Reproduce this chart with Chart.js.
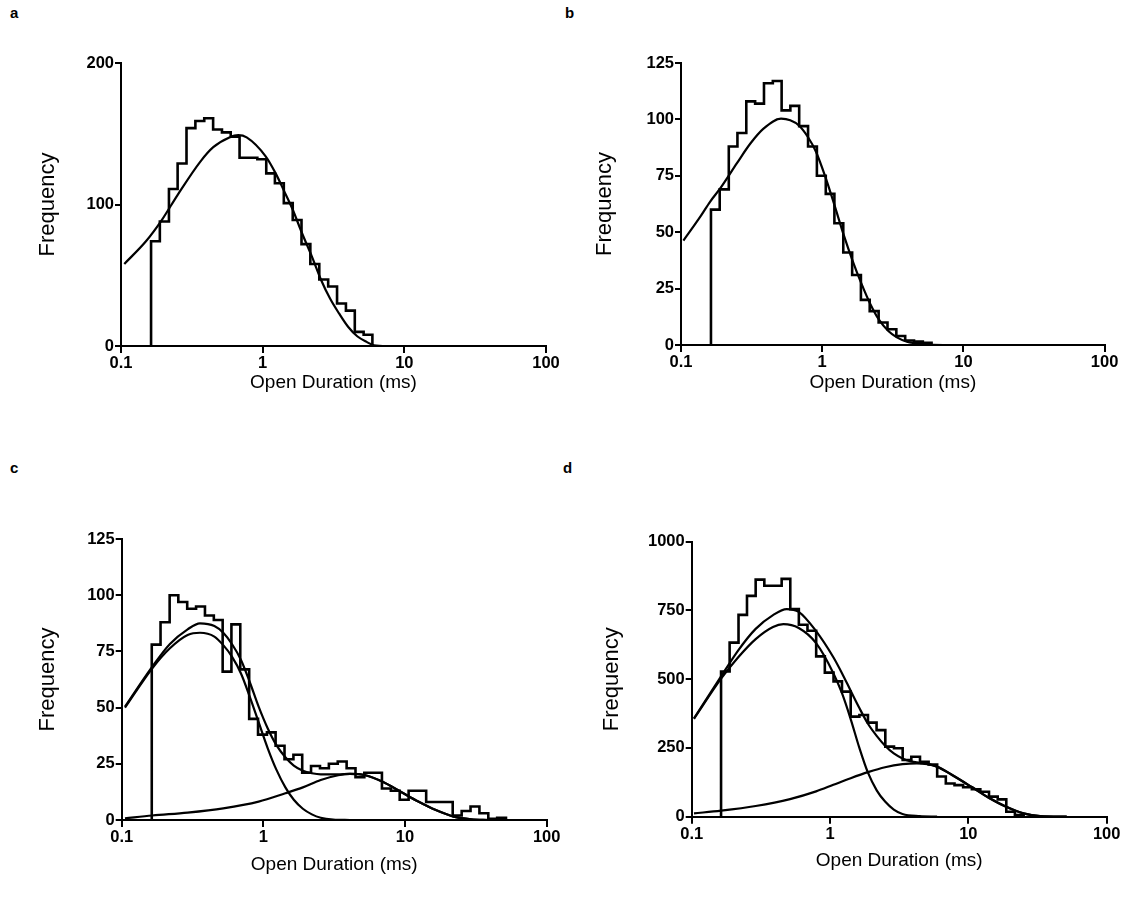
<!DOCTYPE html>
<html>
<head>
<meta charset="utf-8">
<script src="https://cdn.jsdelivr.net/npm/chart.js@4.4.1/dist/chart.umd.min.js"></script>
<style>
  body { margin: 0; background: #fff; width: 1131px; height: 897px; position: relative; overflow: hidden;
         font-family: "Liberation Sans", Arial, sans-serif; }
  canvas { position: absolute; }
  .tag { position: absolute; font-weight: bold; font-size: 15px; line-height: 15px; color: #000; }
</style>
</head>
<body>
<div class="tag" style="left:10px;top:5px">a</div>
<div class="tag" style="left:565px;top:5px">b</div>
<div class="tag" style="left:10px;top:460px">c</div>
<div class="tag" style="left:563px;top:460px">d</div>
<canvas id="pa" width="565" height="450" style="left:0;top:0"></canvas>
<canvas id="pb" width="566" height="450" style="left:565px;top:0"></canvas>
<canvas id="pc" width="565" height="447" style="left:0;top:450px"></canvas>
<canvas id="pd" width="566" height="447" style="left:565px;top:450px"></canvas>
<script>
// x axis (log) ticks
const xTicks = [0.1, 1, 10, 100];
const xTickLabels = ["0.1", "1", "10", "100"];

// histogram bin edges (ms), same for all panels
const binEdges = [0.163, 0.188, 0.218, 0.251, 0.290, 0.335, 0.387, 0.447, 0.516, 0.595,
  0.687, 0.794, 0.917, 1.06, 1.22, 1.41, 1.63, 1.88, 2.17, 2.51,
  2.90, 3.35, 3.87, 4.47, 5.16, 5.95, 6.87, 7.94, 9.17, 10.6,
  12.2, 14.1, 16.3, 18.8, 21.7, 25.1, 29.0, 33.5, 38.7, 44.7, 51.6];

// bin counts
const countsA = [74, 88, 111, 129, 154, 159, 161, 153, 151, 148, 133, 133, 132, 122, 115, 101, 89, 72, 58, 47, 42, 30, 25, 10, 8];
const countsB = [60, 69, 88, 94, 108, 107, 116, 117, 104, 106, 97, 88, 75, 67, 54, 41, 31, 20, 15, 10, 7, 4, 2, 1.5, 1];
const countsC = [78, 88, 100, 97, 94, 95, 91, 89, 66, 87, 67, 45, 38, 39, 33, 27, 29, 21, 24, 23,
  25, 26, 23, 19, 21, 21, 14, 13, 9, 13, 13, 8, 8, 8, 2, 4, 6, 3, 0.5, 1];
const countsD = [528, 633, 734, 803, 862, 840, 840, 865, 755, 698, 676, 583, 524, 492, 455, 364, 370, 342, 315, 255,
  249, 206, 218, 200, 190, 146, 121, 115, 107, 100, 91, 73, 63, 18, 6];

// fitted curves
const fitAx = [0.1055, 0.150, 0.194, 0.25, 0.361, 0.448, 0.582, 0.673, 0.771, 1.05, 1.235, 1.41, 1.62, 1.90, 2.23, 2.59, 2.99, 3.46, 4.02, 4.65, 5.42, 6.1, 7.5, 10];
const fitAy = [58, 74, 89, 106.5, 130, 140.5, 147.4, 149, 147.4, 134, 122, 110, 97, 79.5, 63, 46.5, 33.5, 23, 13.4, 6.9, 2.9, 0.5, 0, 0];

const fitBx = [0.104, 0.137, 0.161, 0.190, 0.249, 0.309, 0.384, 0.511, 0.594, 0.687, 0.792, 0.902, 1.06, 1.22, 1.42, 1.64, 1.89, 2.19, 2.53, 2.94, 3.38, 3.98, 5.2, 7.2, 10];
const fitBy = [46.3, 56.9, 63.6, 69.5, 80.6, 89.2, 95.9, 100.3, 99.6, 97.2, 92.2, 85.8, 74, 62.1, 48.8, 37.4, 27.4, 18.2, 11.1, 6.2, 3.4, 1.5, 0.4, 0, 0];

const fitCx = [0.1055, 0.1644, 0.219, 0.292, 0.357, 0.451, 0.521, 0.600, 0.695, 0.800, 0.926, 1.072, 1.233, 1.43, 1.64, 1.90, 2.20, 2.54, 3.38, 4.09, 5.21, 6.95, 9.31, 12.4, 16.5, 22.0, 29.3, 39.3];
const fitCy = [50.4, 68.2, 78.3, 84.8, 87.5, 86.3, 83.3, 78.3, 71.2, 61.5, 50.4, 40.8, 33.4, 27.9, 24.2, 21.9, 20.8, 20.3, 20.3, 20.5, 19.9, 17, 12.6, 8.2, 4.4, 1.5, 0.3, 0];
const fastCx = [0.1055, 0.1644, 0.219, 0.292, 0.357, 0.451, 0.521, 0.600, 0.695, 0.800, 0.926, 1.072, 1.233, 1.43, 1.64, 1.90, 2.20, 2.54, 3.11, 4.09];
const fastCy = [50, 67.5, 76.4, 82.3, 83.3, 81.6, 77.8, 72.7, 65.2, 55, 43.5, 32, 22.5, 14.5, 9, 5, 2.5, 1, 0.2, 0];
const slowCx = [0.1055, 0.1644, 0.292, 0.521, 0.926, 1.43, 1.90, 2.54, 3.38, 4.09, 5.21, 6.95, 9.31, 12.4, 16.5, 22.0, 29.3, 39.3];
const slowCy = [0.7, 2, 3.3, 5.2, 8.2, 11.9, 14.5, 17.8, 19.9, 20.5, 20, 17, 12.6, 8.2, 4.4, 1.5, 0.3, 0];

const fitDx = [0.1039, 0.163, 0.217, 0.290, 0.387, 0.486, 0.594, 0.793, 1.057, 1.22, 1.41, 1.63, 1.88, 2.18, 2.50, 2.89, 3.34, 3.85, 4.45, 5.14, 5.94, 6.87, 7.93, 10.6, 14.0, 18.7, 25.0, 33.0, 51.4];
const fitDy = [358, 510, 605, 683, 733, 755, 745, 675, 580, 522, 458, 395, 338, 293, 258, 230, 212, 201, 196, 191, 182, 165, 147, 108, 70, 37, 12, 2, 0];
const fastDx = [0.1039, 0.163, 0.217, 0.290, 0.387, 0.460, 0.594, 0.793, 1.057, 1.22, 1.41, 1.63, 1.88, 2.18, 2.50, 2.89, 3.34, 4.45, 5.94];
const fastDy = [356, 502, 580, 646, 690, 700, 686, 631, 522, 449, 355, 250, 160, 95, 55, 26, 10, 2, 0];
const slowDx = [0.1039, 0.163, 0.290, 0.514, 0.793, 1.057, 1.41, 1.88, 2.50, 3.34, 4.24, 5.94, 7.93, 10.6, 14.0, 18.7, 25.0, 33.0, 51.4];
const slowDy = [12, 22, 39, 64, 92, 116, 140, 162, 180, 191, 194, 182, 146, 107, 69, 36, 12, 2, 0];

function histPoints(counts) {
  const pts = [{ x: binEdges[0], y: 0 }];
  counts.forEach((c, i) => pts.push({ x: binEdges[i], y: c }));
  pts.push({ x: binEdges[counts.length], y: 0 });
  return pts;
}
function curvePoints(xs, ys) {
  return xs.map((x, i) => ({ x: x, y: ys[i] }));
}

const tickFont = { family: "'Liberation Sans', Arial, sans-serif", size: 16.5, weight: "bold" };
const xTitleFont = { family: "'Liberation Sans', Arial, sans-serif", size: 19 };
const yTitleFont = { family: "'Liberation Sans', Arial, sans-serif", size: 22 };

// box = chart area inside the canvas, ymax/ystep for the frequency axis
function makePanel(id, counts, curves, box) {
  const cv = document.getElementById(id);
  const W = cv.width, H = cv.height;
  const datasets = [{
    data: histPoints(counts),
    stepped: "before",
    borderColor: "#000",
    borderWidth: 2.6,
    pointRadius: 0,
    fill: false
  }];
  curves.forEach(c => datasets.push({
    data: curvePoints(c[0], c[1]),
    borderColor: "#000",
    borderWidth: 2.2,
    pointRadius: 0,
    cubicInterpolationMode: "monotone",
    fill: false
  }));
  new Chart(cv, {
    type: "line",
    data: { datasets: datasets },
    options: {
      responsive: false,
      animation: false,
      layout: { padding: { left: 0, top: box.top, right: W - box.right, bottom: 0 } },
      plugins: { legend: { display: false }, tooltip: { enabled: false } },
      scales: {
        x: {
          type: "logarithmic",
          min: 0.1,
          max: 100,
          afterBuildTicks: s => { s.ticks = xTicks.map(v => ({ value: v })); },
          afterFit: s => { s.height = H - box.bottom; },
          ticks: {
            autoSkip: false, maxRotation: 0, padding: 1, color: "#000", font: tickFont,
            callback: (v) => xTickLabels[xTicks.indexOf(v)]
          },
          grid: { drawOnChartArea: false, drawTicks: true, tickLength: 7, color: "#000", lineWidth: 2 },
          border: { display: true, color: "#000", width: 2 },
          title: { display: true, text: "Open Duration (ms)", color: "#000", font: xTitleFont,
                   padding: { top: 0, bottom: box.xtitle } }
        },
        y: {
          min: 0,
          max: box.ymax,
          afterFit: s => { s.width = box.left; },
          ticks: { stepSize: box.ystep, padding: 1, color: "#000", font: tickFont, callback: v => String(v) },
          grid: { drawOnChartArea: false, drawTicks: true, tickLength: 6, color: "#000", lineWidth: 2 },
          border: { display: true, color: "#000", width: 2 },
          title: { display: true, text: "Frequency", color: "#000", font: yTitleFont,
                   padding: { top: box.ytitle, bottom: 0 } }
        }
      }
    }
  });
}

makePanel("pa", countsA, [[fitAx, fitAy]],
  { left: 121, right: 546, top: 63, bottom: 346, ymax: 200, ystep: 100, xtitle: 55.6, ytitle: 34.8 });
makePanel("pb", countsB, [[fitBx, fitBy]],
  { left: 116, right: 539.6, top: 63, bottom: 345, ymax: 125, ystep: 25, xtitle: 55.6, ytitle: 26.8 });
makePanel("pc", countsC, [[fitCx, fitCy], [fastCx, fastCy], [slowCx, slowCy]],
  { left: 121.7, right: 546.7, top: 89, bottom: 370, ymax: 125, ystep: 25, xtitle: 20.6, ytitle: 34.8 });
makePanel("pd", countsD, [[fitDx, fitDy], [fastDx, fastDy], [slowDx, slowDy]],
  { left: 126.7, right: 541.7, top: 91.7, bottom: 366.7, ymax: 1000, ystep: 250, xtitle: 24.6, ytitle: 33.8 });
</script>
</body>
</html>
